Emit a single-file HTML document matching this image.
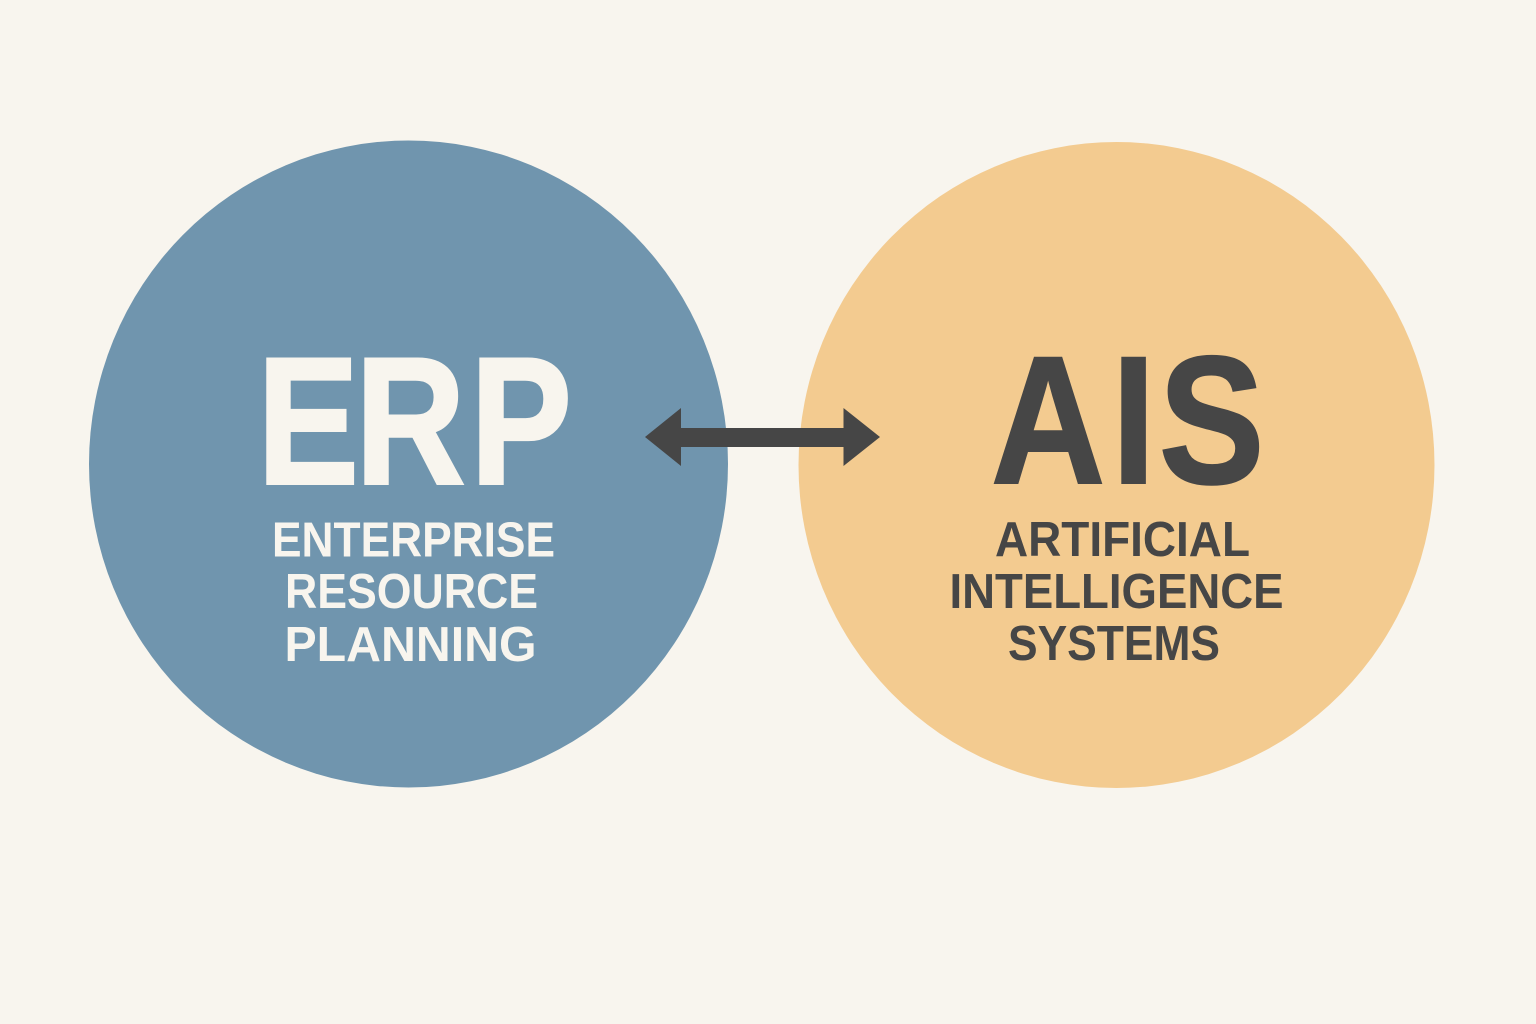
<!DOCTYPE html>
<html>
<head>
<meta charset="utf-8">
<style>
html,body{margin:0;padding:0;background:#f8f5ee;}
svg{display:block;}
text{font-family:"Liberation Sans",Arial,sans-serif;font-weight:bold;text-anchor:middle;}
text.big{text-anchor:start;}
</style>
</head>
<body>
<svg width="1536" height="1024" viewBox="0 0 1536 1024" xmlns="http://www.w3.org/2000/svg">
<rect width="1536" height="1024" fill="#f8f5ee"/>
<ellipse cx="408.500" cy="464" rx="319.500" ry="323.500" fill="#7095ae"/>
<ellipse cx="1116.500" cy="465" rx="318" ry="323" fill="#f3cb90"/>
<text class="big" transform="scale(0.84 1)" x="306.400 423.100 560" y="483.500" font-size="181" stroke-width="3" fill="#f8f5ee" stroke="#f8f5ee">ERP</text>
<text class="big" transform="scale(0.87 1)" x="1139 1277.700 1332" y="483" font-size="182" stroke-width="2" fill="#464646" stroke="#464646">AIS</text>
<g font-size="49" fill="#f8f5ee">
<text x="413.500" y="556.500" textLength="283" lengthAdjust="spacingAndGlyphs">ENTERPRISE</text>
<text x="411.500" y="608" textLength="253" lengthAdjust="spacingAndGlyphs">RESOURCE</text>
<text x="410.500" y="661" textLength="252" lengthAdjust="spacingAndGlyphs">PLANNING</text>
</g>
<g font-size="49" fill="#464646">
<text x="1122.500" y="556" textLength="255" lengthAdjust="spacingAndGlyphs">ARTIFICIAL</text>
<text x="1116.500" y="608" textLength="334" lengthAdjust="spacingAndGlyphs">INTELLIGENCE</text>
<text x="1114" y="660" textLength="212" lengthAdjust="spacingAndGlyphs">SYSTEMS</text>
</g>
<polygon points="645,437 681,408 681,428 843.500,428 843.500,408 880,437 843.500,466 843.500,447 681,447 681,466" fill="#464646"/>
</svg>
</body>
</html>
